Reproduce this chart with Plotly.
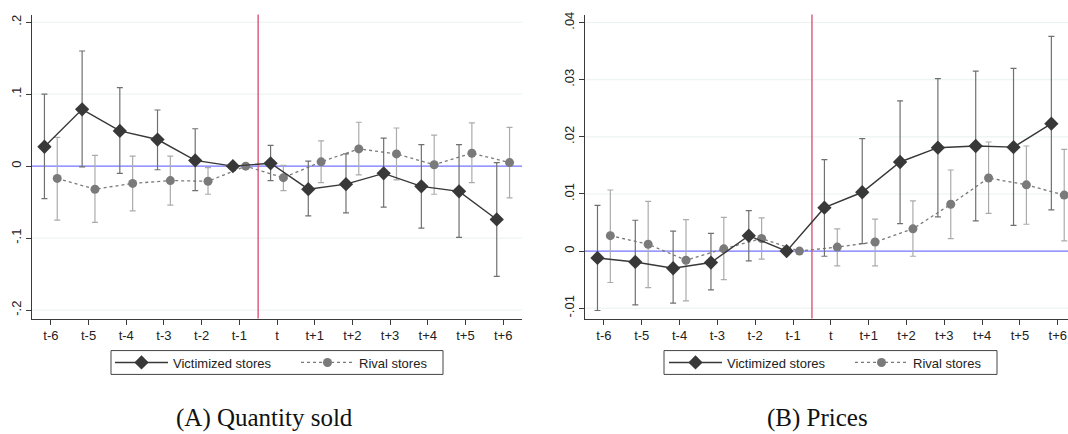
import numpy as np
import plotly.graph_objects as go

# ---------------- data ----------------
periods = ["t-6", "t-5", "t-4", "t-3", "t-2", "t-1", "t", "t+1", "t+2", "t+3", "t+4", "t+5", "t+6"]

# Panel A: quantity sold
qty_victim = [0.027, 0.079, 0.049, 0.037, 0.008, 0.0, 0.004, -0.032, -0.025, -0.010, -0.028, -0.035, -0.074]
qty_victim_hi = [0.100, 0.160, 0.109, 0.078, 0.052, None, 0.029, 0.007, 0.017, 0.039, 0.030, 0.030, 0.005]
qty_victim_lo = [-0.045, -0.001, -0.010, -0.005, -0.034, None, -0.020, -0.069, -0.065, -0.057, -0.086, -0.099, -0.153]
qty_rival = [-0.017, -0.032, -0.024, -0.020, -0.021, 0.0, -0.016, 0.006, 0.024, 0.017, 0.002, 0.018, 0.005]
qty_rival_hi = [0.040, 0.015, 0.014, 0.014, -0.002, None, 0.001, 0.035, 0.061, 0.053, 0.043, 0.060, 0.054]
qty_rival_lo = [-0.075, -0.078, -0.062, -0.054, -0.039, None, -0.034, -0.023, -0.012, -0.019, -0.039, -0.023, -0.044]

# Panel B: prices
price_victim = [-0.0012, -0.0019, -0.0030, -0.0020, 0.0027, 0.0, 0.0076, 0.0103, 0.0156, 0.0181, 0.0184, 0.0182, 0.0223]
price_victim_hi = [0.0080, 0.0054, 0.0035, 0.0031, 0.0071, None, 0.0160, 0.0197, 0.0263, 0.0302, 0.0315, 0.0320, 0.0376]
price_victim_lo = [-0.0104, -0.0094, -0.0091, -0.0068, -0.0017, None, -0.0009, 0.0013, 0.0048, 0.0060, 0.0053, 0.0045, 0.0072]
price_rival = [0.0027, 0.0012, -0.0016, 0.0004, 0.0022, 0.0, 0.0007, 0.0016, 0.0039, 0.0082, 0.0128, 0.0116, 0.0098]
price_rival_hi = [0.0107, 0.0087, 0.0055, 0.0059, 0.0058, None, 0.0039, 0.0056, 0.0088, 0.0142, 0.0191, 0.0184, 0.0178]
price_rival_lo = [-0.0055, -0.0064, -0.0087, -0.0050, -0.0014, None, -0.0026, -0.0026, -0.0009, 0.0022, 0.0066, 0.0047, 0.0018]

qty_ticks = [0.2, 0.1, 0.0, -0.1, -0.2]
qty_ticktext = [".2", ".1", "0", "-.1", "-.2"]
price_ticks = [0.04, 0.03, 0.02, 0.01, 0.0, -0.01]
price_ticktext = [".04", ".03", ".02", ".01", "0", "-.01"]

series_names = ["Victimized stores", "Rival stores"]
captions = ["(A) Quantity sold", "(B) Prices"]

# ---------------- styling ----------------
W, H = 1068, 434
FONT = "Liberation Sans, Arial, sans-serif"
VICT_COL = "#383838"
VICT_ERR = "#707070"
RIV_COL = "#7a7a7a"
RIV_ERR = "#ababab"
GRID = "#e9f1f1"
AXIS = "#3a3a3a"
ZERO = "#7474ff"
EVENT = "#e0607e"
OFF = 0.17


def err(vals, hi, lo):
    plus = [np.nan if h is None else h - v for v, h in zip(vals, hi)]
    minus = [np.nan if l is None else v - l for v, l in zip(vals, lo)]
    return plus, minus


idx = np.arange(len(periods))
fig = go.Figure()

panels = [
    (qty_victim, qty_victim_hi, qty_victim_lo, qty_rival, qty_rival_hi, qty_rival_lo, "x", "y", ("legend", "legend2")),
    (price_victim, price_victim_hi, price_victim_lo, price_rival, price_rival_hi, price_rival_lo, "x2", "y2", ("legend3", "legend4")),
]

for (v, vh, vl, r, rh, rl, xa, ya, legs) in panels:
    rp, rm = err(r, rh, rl)
    fig.add_trace(go.Scatter(
        x=idx + OFF, y=r, xaxis=xa, yaxis=ya, name=series_names[1], legend=legs[1],
        mode="lines+markers",
        line=dict(color=RIV_COL, width=1.3, dash="3px,3px"),
        marker=dict(symbol="circle", size=9, color=RIV_COL),
        error_y=dict(type="data", array=rp, arrayminus=rm, color=RIV_ERR, thickness=1.2, width=3),
    ))
    vp, vm = err(v, vh, vl)
    fig.add_trace(go.Scatter(
        x=idx - OFF, y=v, xaxis=xa, yaxis=ya, name=series_names[0], legend=legs[0],
        mode="lines+markers",
        line=dict(color=VICT_COL, width=1.4),
        marker=dict(symbol="diamond", size=11, color=VICT_COL),
        error_y=dict(type="data", array=vp, arrayminus=vm, color=VICT_ERR, thickness=1.2, width=3),
    ))

ytop, ybot = 1 - 11.7 / H, 1 - 317.7 / H
xl_dom = [32 / W, 522 / W]
xr_dom = [585 / W, 1.0]

axis_common = dict(showline=True, linecolor=AXIS, linewidth=1, ticks="outside", ticklen=5,
                   tickcolor=AXIS, tickfont=dict(family=FONT, size=13, color="#222"),
                   showgrid=False, zeroline=False)

leg_common = dict(orientation="h", xanchor="left", yanchor="middle", y=1 - 362 / H,
                  bgcolor="rgba(0,0,0,0)", borderwidth=0, itemwidth=53,
                  font=dict(family=FONT, size=13, color="#222"))

fig.update_layout(
    width=W, height=H, margin=dict(l=0, r=0, t=0, b=0),
    paper_bgcolor="white", plot_bgcolor="white", hovermode=False,
    font=dict(family=FONT, size=13, color="#222"),
    xaxis=dict(domain=xl_dom, anchor="y", range=[-0.5, 12.5], tickvals=list(idx), ticktext=periods,
               **axis_common),
    yaxis=dict(domain=[ybot, ytop], anchor="x", range=[-0.2116, 0.2105], tickvals=qty_ticks,
               ticktext=qty_ticktext, tickangle=-90, **axis_common),
    xaxis2=dict(domain=xr_dom, anchor="y2", range=[-0.5, 12.27], tickvals=list(idx), ticktext=periods,
                **axis_common),
    yaxis2=dict(domain=[ybot, ytop], anchor="x2", range=[-0.0118, 0.0414], tickvals=price_ticks,
                ticktext=price_ticktext, tickangle=-90, **axis_common),
    legend=dict(x=110 / W, **leg_common),
    legend2=dict(x=296 / W, **leg_common),
    legend3=dict(x=664 / W, **leg_common),
    legend4=dict(x=850 / W, **leg_common),
    showlegend=True,
)

# gridlines, zero line and event line (drawn beneath the data)
for xa, ya, ticks in [("x", "y", qty_ticks), ("x2", "y2", price_ticks)]:
    for tv in ticks:
        if tv == 0:
            continue
        fig.add_shape(type="line", xref=f"{xa} domain", yref=ya, x0=0, x1=1, y0=tv, y1=tv,
                      line=dict(color=GRID, width=1), layer="below")
    fig.add_shape(type="line", xref=f"{xa} domain", yref=ya, x0=0, x1=1, y0=0, y1=0,
                  line=dict(color=ZERO, width=1.2), layer="below")
    fig.add_shape(type="line", xref=xa, yref="paper", x0=5.5, x1=5.5, y0=ybot, y1=ytop,
                  line=dict(color=EVENT, width=1.5), layer="below")

# legend frames
for x0, x1 in [(111, 443), (664, 997)]:
    fig.add_shape(type="rect", xref="paper", yref="paper", x0=x0 / W, x1=x1 / W,
                  y0=1 - 374 / H, y1=1 - 350 / H, line=dict(color="#444", width=1),
                  fillcolor="rgba(0,0,0,0)", layer="above")

for cap, cx in zip(captions, [264, 817.5]):
    fig.add_annotation(text=cap, x=cx / W, y=1 - 418 / H, xref="paper", yref="paper",
                       xanchor="center", yanchor="middle", showarrow=False,
                       font=dict(family="Liberation Serif, Times New Roman, serif", size=25, color="#111"))

fig.write_html("out.html", config={"displayModeBar": False, "staticPlot": True},
               post_script="document.body.style.margin='0px';")
